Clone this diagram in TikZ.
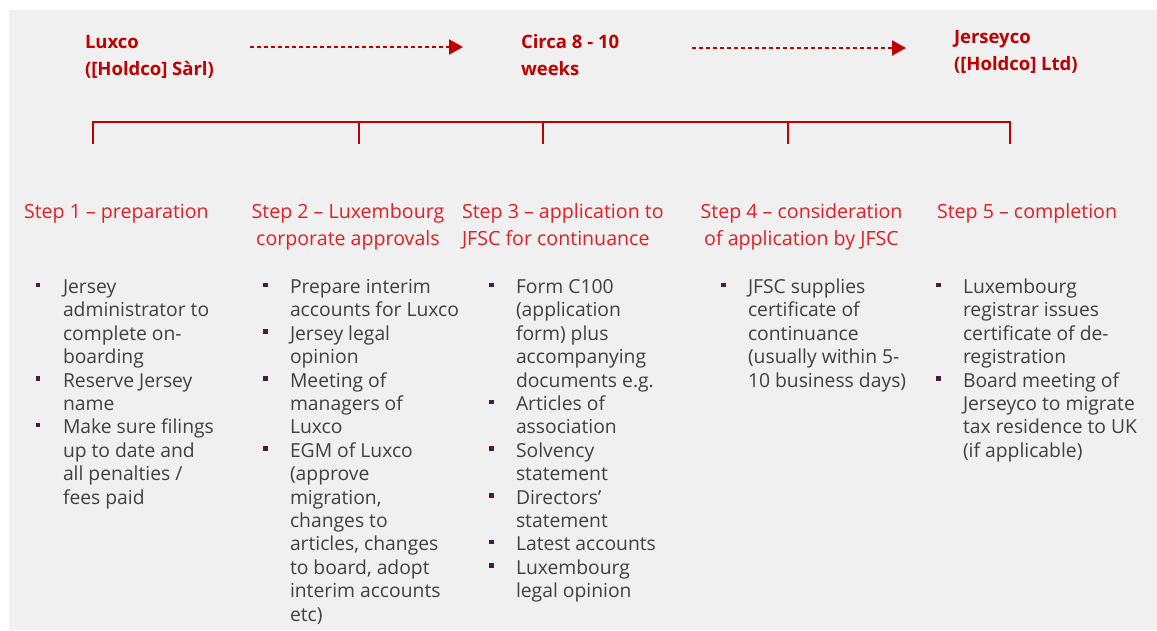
\documentclass[tikz,border=0pt]{standalone}
\usepackage{fontspec}
\setmainfont{Open Sans}
\usetikzlibrary{arrows.meta}

\definecolor{darkred}{RGB}{192,0,0}
\definecolor{headred}{RGB}{226,30,38}
\definecolor{bodygray}{RGB}{64,64,64}
\definecolor{bulletc}{RGB}{72,28,60}
\definecolor{panel}{RGB}{240,240,240}

% start of a bulleted item: square bullet hung in the left margin
\newcommand{\blt}{\par\noindent\llap{\textcolor{bulletc}{\rule[6.5pt]{4.5pt}{4.5pt}}\hspace{22.5pt}}}

\begin{document}
\begin{tikzpicture}[x=1pt,y=-1pt,
  every node/.style={inner sep=0pt,outer sep=0pt},
  company/.style={anchor=base west,text=darkred,font=\fontsize{18.5}{27}\selectfont\bfseries},
  stephead/.style={text=headred,font=\fontsize{19.6}{27.5}\selectfont},
  itemlist/.style={anchor=base west,text=bodygray,font=\fontsize{19.3}{23.4}\selectfont},
  timeline/.style={draw=darkred,line width=2pt},
  flow/.style={draw=darkred,line width=2pt,dash pattern=on 4pt off 3pt,
    -{Triangle[length=14pt,width=15pt,fill=darkred]}}]

\useasboundingbox (0,0) rectangle (1157,630);
\fill[panel] (9,10) rectangle (1157,630);

% companies and duration
\node[company] (luxco) at (85,48) {\parbox[t]{200pt}{\raggedright Luxco\\([Holdco] Sàrl)}};
\node[company] (circa) at (521,48) {\parbox[t]{200pt}{\raggedright Circa 8 - 10\\weeks}};
\node[company] (jersey) at (954,43) {\parbox[t]{200pt}{\raggedright Jerseyco\\([Holdco] Ltd)}};

% dotted flow arrows
\coordinate (f1a) at (250,47);
\coordinate (f1b) at (463,47);
\coordinate (f2a) at (692,48);
\coordinate (f2b) at (906,48);
\draw[flow] (f1a) -- (f1b);
\draw[flow] (f2a) -- (f2b);

% timeline bracket with ticks
\coordinate (tl1) at (93,122);
\coordinate (tl2) at (359,122);
\coordinate (tl3) at (543,122);
\coordinate (tl4) at (788,122);
\coordinate (tl5) at (1010,122);
\coordinate (tk1) at (93,144);
\coordinate (tk2) at (359,144);
\coordinate (tk3) at (543,144);
\coordinate (tk4) at (788,144);
\coordinate (tk5) at (1010,144);
\draw[timeline] (tk1) -- (tl1) -- (tl5) -- (tk5);
\foreach \i in {2,3,4} \draw[timeline] (tl\i) -- (tk\i);

% step headings
\node[stephead,anchor=base west] (s1) at (24,218) {Step 1 – preparation};
\node[stephead,anchor=base] (s2) at (348,218) {\parbox[t]{230pt}{\centering Step 2 – Luxembourg\\corporate approvals}};
\node[stephead,anchor=base west] (s3) at (462,218) {\parbox[t]{230pt}{\raggedright Step 3 – application to\\JFSC for continuance}};
\node[stephead,anchor=base] (s4) at (801.5,218) {\parbox[t]{230pt}{\centering Step 4 – consideration\\of application by JFSC}};
\node[stephead,anchor=base west] (s5) at (937,218) {Step 5 – completion};

% bullet lists
\node[itemlist] (l1) at (63,293.5) {\parbox[t]{230pt}{\raggedright
  \blt Jersey\\administrator to\\complete on-\\boarding
  \blt Reserve Jersey\\name
  \blt Make sure filings\\up to date and\\all penalties /\\fees paid}};
\node[itemlist] (l2) at (290,293.5) {\parbox[t]{230pt}{\raggedright
  \blt Prepare interim\\accounts for Luxco
  \blt Jersey legal\\opinion
  \blt Meeting of\\managers of\\Luxco
  \blt EGM of Luxco\\(approve\\migration,\\changes to\\articles, changes\\to board, adopt\\interim accounts\\etc)}};
\node[itemlist] (l3) at (516,293.5) {\parbox[t]{230pt}{\raggedright
  \blt Form C100\\(application\\form) plus\\accompanying\\documents e.g.
  \blt Articles of\\association
  \blt Solvency\\statement
  \blt Directors’\\statement
  \blt Latest accounts
  \blt Luxembourg\\legal opinion}};
\node[itemlist] (l4) at (748,293.5) {\parbox[t]{230pt}{\raggedright
  \blt JFSC supplies\\certificate of\\continuance\\(usually within 5-\\10 business days)}};
\node[itemlist] (l5) at (963,293.5) {\parbox[t]{230pt}{\raggedright
  \blt Luxembourg\\registrar issues\\certificate of de-\\registration
  \blt Board meeting of\\Jerseyco to migrate\\tax residence to UK\\(if applicable)}};

\end{tikzpicture}
\end{document}
